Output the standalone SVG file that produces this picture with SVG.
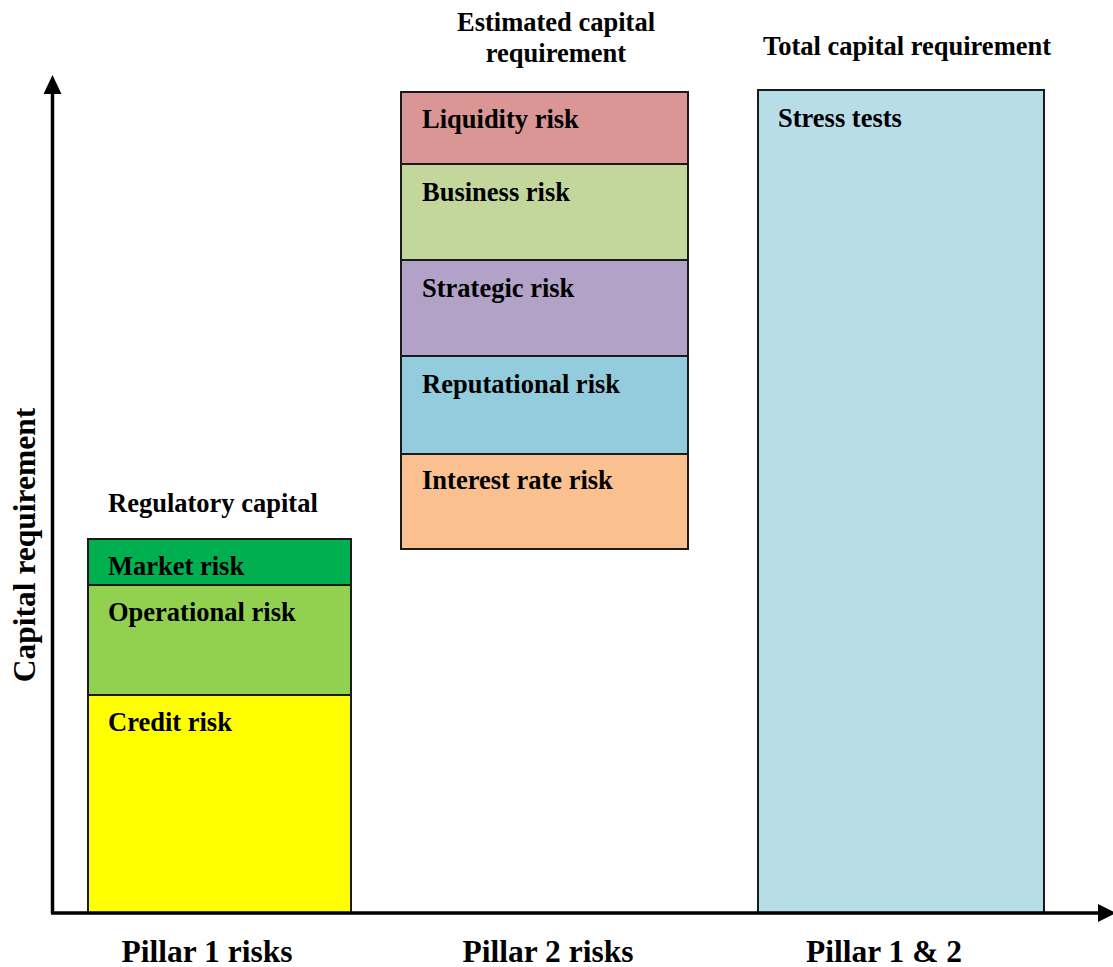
<svg xmlns="http://www.w3.org/2000/svg" width="1113" height="967" viewBox="0 0 1113 967">
<style>
text{font-family:"Liberation Serif","Times New Roman",serif;font-weight:bold;fill:#000}
.lbl{font-size:26.5px}
.big{font-size:31.5px}
.box{stroke:#1a1a1a;stroke-width:2}
.axis{stroke:#000;stroke-width:3.5;fill:none}
</style>
<rect width="1113" height="967" fill="#fff"/>
<g id="pillar1">
<text class="lbl" x="108" y="512">Regulatory capital</text>
<g id="market"><rect class="box" x="88" y="539" width="263" height="46" fill="#00B050"/><text class="lbl" x="108" y="575">Market risk</text></g>
<g id="operational"><rect class="box" x="88" y="585" width="263" height="110" fill="#92D050"/><text class="lbl" x="108" y="621">Operational risk</text></g>
<g id="credit"><rect class="box" x="88" y="695" width="263" height="218" fill="#FFFF00"/><text class="lbl" x="108" y="731">Credit risk</text></g>
</g>
<g id="pillar2">
<text class="lbl" x="556" y="31" text-anchor="middle">Estimated capital</text>
<text class="lbl" x="556" y="62" text-anchor="middle">requirement</text>
<g id="liquidity"><rect class="box" x="401" y="92" width="287" height="72" fill="#D99694"/><text class="lbl" x="422" y="128">Liquidity risk</text></g>
<g id="business"><rect class="box" x="401" y="164" width="287" height="96" fill="#C3D69B"/><text class="lbl" x="422" y="201">Business risk</text></g>
<g id="strategic"><rect class="box" x="401" y="260" width="287" height="96" fill="#B3A2C7"/><text class="lbl" x="422" y="297">Strategic risk</text></g>
<g id="reputational"><rect class="box" x="401" y="356" width="287" height="98" fill="#93CDDD"/><text class="lbl" x="422" y="393">Reputational risk</text></g>
<g id="interest"><rect class="box" x="401" y="454" width="287" height="95" fill="#FAC090"/><text class="lbl" x="422" y="489">Interest rate risk</text></g>
</g>
<g id="pillar12">
<text class="lbl" x="907" y="55" text-anchor="middle">Total capital requirement</text>
<g id="stress"><rect class="box" x="758" y="90" width="286" height="823" fill="#B7DEE8"/><text class="lbl" x="778" y="127">Stress tests</text></g>
</g>
<g id="connectors">
<line class="axis" x1="52.5" y1="913" x2="52.5" y2="90"/>
<polygon points="52.5,75 43.5,94 61.5,94" fill="#000"/>
<line class="axis" x1="51" y1="913" x2="1100" y2="913"/>
<polygon points="1116,913 1098,904 1098,922" fill="#000"/>
</g>
<g id="axis-labels">
<text class="big" transform="translate(35,545) rotate(-90)" text-anchor="middle">Capital requirement</text>
<text class="big" x="207" y="962" text-anchor="middle">Pillar 1 risks</text>
<text class="big" x="548" y="962" text-anchor="middle">Pillar 2 risks</text>
<text class="big" x="884" y="962" text-anchor="middle">Pillar 1 &amp; 2</text>
</g>
</svg>
